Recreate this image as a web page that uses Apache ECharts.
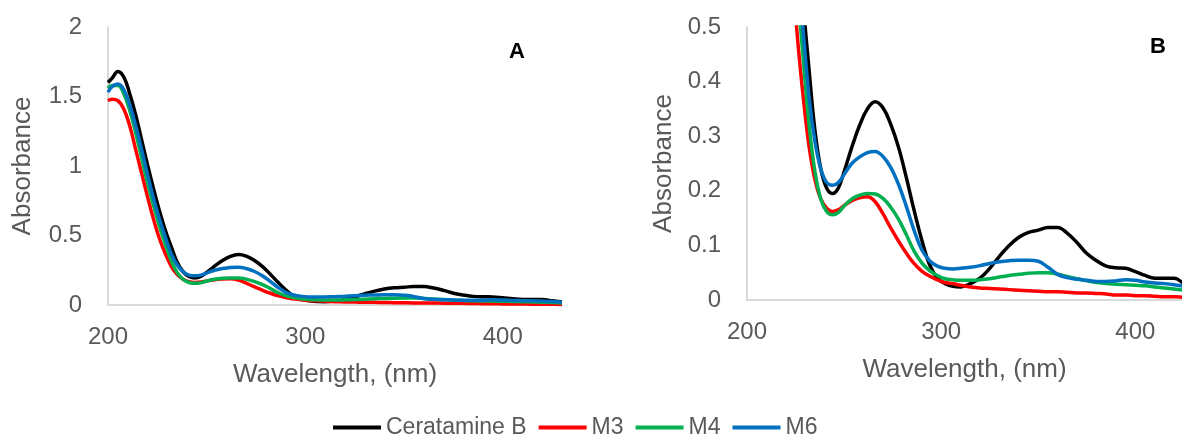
<!DOCTYPE html>
<html>
<head>
<meta charset="utf-8">
<script src="https://cdn.jsdelivr.net/npm/echarts@6/dist/echarts.min.js"></script>
<style>
html,body{margin:0;padding:0;background:#fff;}
#chart{width:1182px;height:441px;}
</style>
</head>
<body>
<div id="chart"></div>
<script>
const wavelength = [200,202,205,208,211,214,217,220,223,226,229,232,235,238,241,244,247,250,254,258,262,266,270,274,278,282,286,290,294,298,302,306,310,315,320,325,330,335,340,345,350,355,360,365,370,375,380,385,390,395,400,405,410,415,420,425,430];
const ceratamineB = [1.60,1.63,1.68,1.64,1.52,1.37,1.19,1.01,0.84,0.68,0.54,0.42,0.31,0.24,0.205,0.195,0.205,0.235,0.28,0.32,0.35,0.363,0.352,0.322,0.28,0.225,0.165,0.11,0.065,0.04,0.03,0.025,0.024,0.03,0.04,0.058,0.08,0.10,0.115,0.124,0.128,0.133,0.133,0.122,0.105,0.085,0.072,0.062,0.059,0.058,0.052,0.045,0.04,0.04,0.04,0.03,0.022];
const m3 = [1.47,1.48,1.47,1.41,1.29,1.12,0.95,0.78,0.62,0.48,0.37,0.28,0.22,0.185,0.168,0.162,0.165,0.173,0.182,0.187,0.189,0.18,0.158,0.132,0.108,0.086,0.067,0.053,0.044,0.037,0.032,0.03,0.027,0.024,0.022,0.021,0.02,0.019,0.018,0.017,0.016,0.015,0.015,0.014,0.013,0.013,0.012,0.011,0.009,0.009,0.008,0.008,0.007,0.006,0.006,0.005,0.004];
const m4 = [1.56,1.58,1.58,1.52,1.40,1.24,1.06,0.88,0.72,0.57,0.44,0.32,0.235,0.185,0.162,0.156,0.16,0.172,0.185,0.192,0.195,0.194,0.186,0.17,0.148,0.12,0.09,0.068,0.054,0.045,0.039,0.037,0.036,0.036,0.037,0.039,0.042,0.045,0.047,0.049,0.05,0.05,0.047,0.043,0.039,0.035,0.032,0.03,0.029,0.028,0.027,0.026,0.024,0.022,0.02,0.018,0.015];
const m6 = [1.53,1.57,1.59,1.55,1.44,1.29,1.12,0.94,0.77,0.62,0.49,0.37,0.29,0.24,0.215,0.21,0.215,0.23,0.25,0.262,0.27,0.272,0.263,0.243,0.212,0.172,0.128,0.092,0.072,0.062,0.058,0.057,0.058,0.06,0.063,0.067,0.07,0.072,0.073,0.073,0.071,0.06,0.047,0.041,0.038,0.036,0.034,0.034,0.035,0.037,0.036,0.033,0.031,0.03,0.028,0.025,0.02];

const seriesNames = ['Ceratamine B','M3','M4','M6'];
const seriesValues = [ceratamineB, m3, m4, m6];
const seriesColors = ['#000000','#ff0000','#00b050','#0070c0'];
const xTicksA = {min:200, max:430, interval:100};
const xTicksB = {min:200, max:424, interval:100};
const yTicksA = {min:0, max:2, interval:0.5};
const yTicksB = {min:0, max:0.5, interval:0.1};

const FONT = 'Liberation Sans, Arial, sans-serif';
const GREY = '#595959';

function xAxis(gi, t){
  return {
    type:'value', gridIndex:gi, min:t.min, max:t.max, interval:t.interval,
    name:'Wavelength, (nm)', nameLocation:'middle', nameGap:57,
    nameTextStyle:{color:GREY, fontSize:26, fontFamily:FONT},
    axisLine:{show:true, lineStyle:{color:'#d9d9d9', width:2}},
    axisTick:{show:false}, splitLine:{show:false},
    axisLabel:{color:GREY, fontSize:24, fontFamily:FONT, margin:20, showMaxLabel:false}
  };
}
function yAxis(gi, t, gap){
  return {
    type:'value', gridIndex:gi, min:t.min, max:t.max, interval:t.interval,
    name:'Absorbance', nameLocation:'middle', nameGap:gap,
    nameTextStyle:{color:GREY, fontSize:26, fontFamily:FONT},
    axisLine:{show:true, lineStyle:{color:'#d9d9d9', width:2}},
    axisTick:{show:false}, splitLine:{show:false},
    axisLabel:{color:GREY, fontSize:24, fontFamily:FONT, margin:26}
  };
}

const series = [];
[0,1].forEach(gi => {
  seriesNames.forEach((name, i) => {
    series.push({
      name, type:'line', xAxisIndex:gi, yAxisIndex:gi,
      data: wavelength.map((w, k) => [w, seriesValues[i][k]]),
      smooth:0.4, symbol:'none', showSymbol:false, clip:true,
      lineStyle:{color:seriesColors[i], width:3.5},
      itemStyle:{color:seriesColors[i]},
      z: 2 + i
    });
  });
});

const chart = echarts.init(document.getElementById('chart'), null, {renderer:'canvas'});
chart.setOption({
  animation:false,
  backgroundColor:'#ffffff',
  grid:[
    {left:108, top:27, width:454, height:278},
    {left:747, top:27, width:435, height:273}
  ],
  xAxis:[xAxis(0, xTicksA), xAxis(1, xTicksB)],
  yAxis:[yAxis(0, yTicksA, 72), yAxis(1, yTicksB, 70)],
  legend:{
    data:seriesNames, left:333, top:416, itemWidth:48, itemHeight:4, itemGap:12,
    icon:'rect',
    textStyle:{color:GREY, fontSize:23, fontFamily:FONT, padding:[0,0,0,0]},
    padding:0
  },
  graphic:[
    {type:'text', left:509, top:41, style:{text:'A', fontSize:22, fontWeight:'bold', fill:'#000', fontFamily:FONT}},
    {type:'text', left:1150, top:36, style:{text:'B', fontSize:22, fontWeight:'bold', fill:'#000', fontFamily:FONT}}
  ],
  series
});
</script>
</body>
</html>
